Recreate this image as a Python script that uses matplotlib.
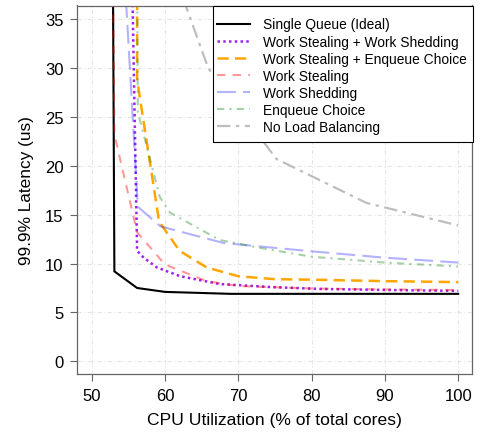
import matplotlib
matplotlib.use("Agg")
import matplotlib.pyplot as plt
from matplotlib.patches import Rectangle

plt.rcParams['font.family'] = ['Liberation Sans', 'DejaVu Sans']

# ---- data ----
sq_x = [52.9, 53.1, 56.2, 60.0, 69.0, 80, 90, 100]
sq_y = [40, 9.2, 7.5, 7.1, 6.9, 6.9, 6.9, 6.9]

wsws_x = [55.5, 56.2, 57.1, 58.9, 62.1, 67.5, 74.3, 81.2, 90, 100]
wsws_y = [40, 11.3, 10.6, 9.6, 8.7, 7.9, 7.6, 7.4, 7.3, 7.2]

wsec_x = [56.2, 56.2, 59.2, 62.0, 65.7, 70, 75, 80, 90, 100]
wsec_y = [40, 28.8, 14.3, 11.3, 9.6, 8.7, 8.4, 8.35, 8.2, 8.1]

ws_x = [52.9, 53.1, 56.2, 60.0, 65.7, 70, 80, 90, 100]
ws_y = [40, 23.2, 13.2, 9.9, 8.2, 7.7, 7.45, 7.35, 7.3]

wsh_x = [54.45, 56.3, 59.4, 68, 80, 90, 100]
wsh_y = [40, 15.8, 13.8, 12.1, 11.25, 10.6, 10.1]

ec_x = [56.2, 56.3, 59.3, 60.7, 67.5, 73, 80, 90, 100]
ec_y = [40, 25.5, 16.8, 15.2, 12.4, 11.6, 10.7, 10.1, 9.7]

nlb_x = [61.1, 65.9, 75.2, 87.5, 100]
nlb_y = [40, 30, 20.7, 16.2, 13.9]

labels = ["Single Queue (Ideal)", "Work Stealing + Work Shedding",
          "Work Stealing + Enqueue Choice", "Work Stealing", "Work Shedding",
          "Enqueue Choice", "No Load Balancing"]
x_ticks = [50, 60, 70, 80, 90, 100]
y_ticks = [0, 5, 10, 15, 20, 25, 30, 35]

W, H = 485, 435
fig = plt.figure(figsize=(W / 100, H / 100), dpi=100)
ax = fig.add_axes([77 / W, 1 - 375 / H, (471.7 - 77) / W, (375 - 6.5) / H])

ax.grid(True, color='#e6e6e6', linestyle=(0, (4, 2, 1, 2)), linewidth=0.8)
ax.set_axisbelow(True)

ax.plot(sq_x, sq_y, color='black', lw=1.5, solid_joinstyle='miter', label=labels[0])
ax.plot(wsws_x, wsws_y, color='#A020F0', lw=1.8, linestyle=(0, (1, 1.3)), label=labels[1])
ax.plot(wsec_x, wsec_y, color='#FFA500', lw=1.8, linestyle=(0, (4.5, 2.5)), label=labels[2])
ax.plot(ws_x, ws_y, color='red', alpha=0.4, lw=1.5, linestyle=(0, (4, 3.5)), label=labels[3])
ax.plot(wsh_x, wsh_y, color='blue', alpha=0.3, lw=1.5, linestyle=(0, (9, 3.5)), label=labels[4])
ax.plot(ec_x, ec_y, color='forestgreen', alpha=0.4, lw=1.5, linestyle=(0, (3.5, 2.5, 1, 2.5)), label=labels[5])
ax.plot(nlb_x, nlb_y, color='#BEBEBE', lw=1.6, linestyle=(0, (6, 2.5, 1.5, 2.5)), label=labels[6])

ax.set_xlim(48.0, 101.85)
ax.set_ylim(-1.3, 36.4)
ax.set_xticks(x_ticks)
ax.set_yticks(y_ticks)
ax.tick_params(axis='both', labelsize=12, length=4.8, width=0.8, color='#666666', pad=5)

for s in ax.spines.values():
    s.set_color('#666666')
    s.set_linewidth(0.9)

ax.set_xlabel("CPU Utilization (% of total cores)", fontsize=12.6, labelpad=7)
ax.set_ylabel("99.9% Latency (us)", fontsize=12.4, labelpad=8)

# legend box (frame drawn separately so vertical/horizontal padding match)
box = Rectangle((213 / W, 1 - 143 / H), (473 - 213) / W, (143 - 6.5) / H,
                transform=fig.transFigure, facecolor='white', edgecolor='black',
                linewidth=0.8, zorder=5)
fig.patches.append(box)

leg = fig.legend(*ax.get_legend_handles_labels(), loc='upper left',
                 bbox_to_anchor=(216.5 / W, 1 - 18.5 / H), borderaxespad=0,
                 fontsize=9.9, frameon=False, handlelength=2.45,
                 handletextpad=0.95, labelspacing=0.225, borderpad=0)
leg.set_zorder(6)

fig.savefig("out.png", dpi=100)
